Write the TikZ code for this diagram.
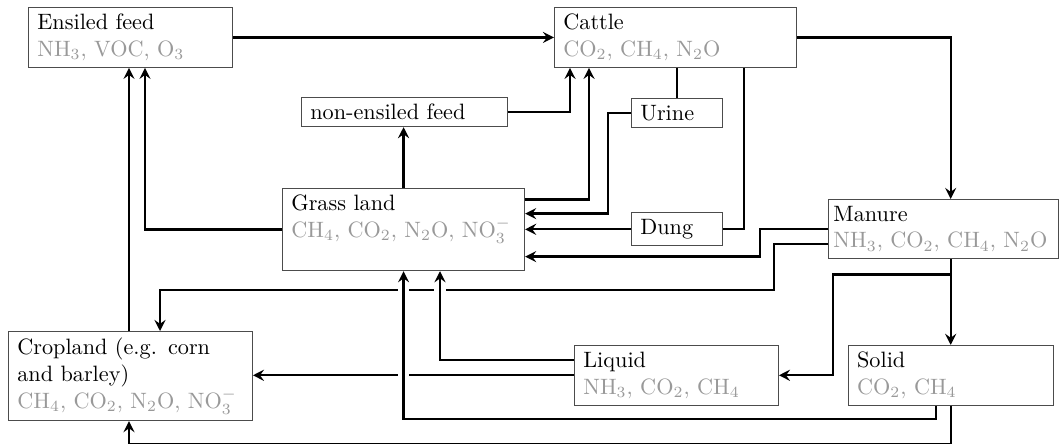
\documentclass[tikz,border=0pt]{standalone}
\usepackage{xcolor}
\usepackage{tikz}
\usetikzlibrary{positioning, arrows.meta}
\definecolor{emisgray}{gray}{0.6}
\newcommand{\emis}[1]{\textcolor{emisgray}{#1}}
\tikzset{
    box/.style={
        draw = black!70,
        anchor = north west,
        align = left,
        inner xsep = 4pt,
        inner ysep = 3pt
    },
    link/.style = {line width=1.05pt},
    line/.style = {-{Stealth[length=5pt, width=5pt, inset=1.8pt]}, line width=1.05pt},
    over/.style = {preaction={draw, white, line width=5pt, -, shorten <=2pt, shorten >=2pt}}
}
\begin{document}
\begin{tikzpicture}[x=0.45pt, y=-0.45pt]

                        \useasboundingbox (0,0) rectangle (1060,444);

                        % Feed and cattle
                        \node[box, text width=83.8pt] (ensiled) at (28,7) {Ensiled feed\\\emis{NH$_3$, VOC, O$_3$}};
                        \node[box, text width=101pt] (cattle) at (554,7) {Cattle\\\emis{CO$_2$, CH$_4$, N$_2$O}};
                        \node[box, text width=84.7pt] (nonens) at (301,97) {non-ensiled feed};

                        % Excreta
                        \node[box, text width=33pt] (urine) at (631,98) {Urine};
                        \node[box,
                            text width=33pt,
                            below = 38pt of urine,
                        ] (dung) {Dung};

                        % Land
                        \node[box, text width=101pt] (grass) at (282,188) {Grass land\\\emis{CH$_4$, CO$_2$, N$_2$O, NO$_3^-$}\\~};
                        \node[box, text width=101.8pt] (crop) at (8,331) {Cropland (e.g. corn and barley)\\\emis{CH$_4$, CO$_2$, N$_2$O, NO$_3^-$}};

                        % Manure
                        \node[box, text width=99pt, inner xsep=2.25pt] (manure) at (828,199) {Manure\\\emis{NH$_3$, CO$_2$, CH$_4$, N$_2$O}};
                        \node[box, text width=83.8pt] (liquid) at (574,345) {Liquid\\\emis{NH$_3$, CO$_2$, CH$_4$}};
                        \node[box,
                            text width=84.2pt,
                            right = 31pt of liquid,
                        ] (solid) {Solid\\\emis{CO$_2$, CH$_4$}};

                        % Lines that get crossed
                        \draw[line] (manure.west) ++(0,15) -- ++(-54,0) -- ++(0,46) -| ([shift={(152,0)}]crop.north west);
                        \draw[line] (liquid.west) -- (liquid.west -| crop.east);

                        % Lines crossing over
                        \draw[line, over] ([shift={(0,-15)}]liquid.west) -| ([shift={(158,0)}]grass.south west);
                        \draw[line, over] ([shift={(-15,0)}]solid.south) -- ++(0,13) -| (grass.south);

                        % Lines
                        \draw[line] (ensiled.east) -- (cattle.west);
                        \draw[line] (cattle.east) -| (manure.north -| solid.north);
                        \draw[link] (cattle.south -| urine.north) -- (urine.north);
                        \draw[line] (urine.west) -- ++(-23,0) |- ([shift={(0,-16)}]grass.east);
                        \draw[link] ([shift={(-53,0)}]cattle.south east) |- (dung.east);
                        \draw[line] (dung.west) -- (dung.west -| grass.east);
                        \draw[line] ([shift={(0,-30)}]grass.east) -| ([shift={(35,0)}]cattle.south west);
                        \draw[line] (nonens.east) -| ([shift={(16,0)}]cattle.south west);
                        \draw[line] (grass.north) -- (grass.north |- nonens.south);
                        \draw[line] (grass.west) -| ([shift={(117,0)}]ensiled.south west);
                        \draw[line] ([shift={(121,0)}]crop.north west) -- ([shift={(101,0)}]ensiled.south west);
                        \draw[line] (manure.west) -- ++(-68,0) |- ([shift={(0,27)}]grass.east);
                        \draw[line] (manure.south -| solid.north) -- (solid.north);
                        \draw[line] (manure.south -| solid.north) ++(0,15) -- ++(-118,0) |- (liquid.east);
                        \draw[line] (solid.south) -- ++(0,38) -| ([shift={(121,0)}]crop.south west);

                    \end{tikzpicture}
\end{document}
